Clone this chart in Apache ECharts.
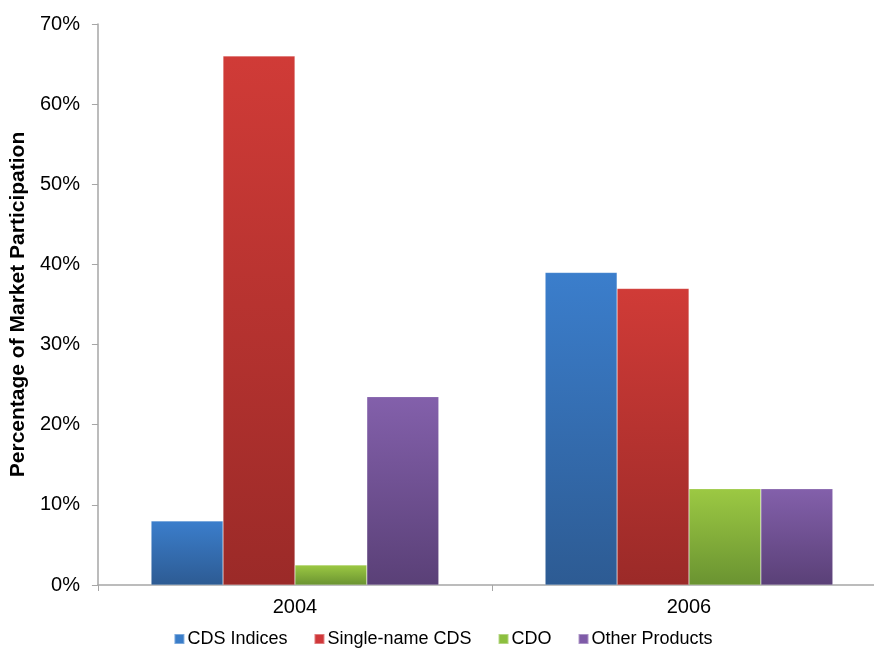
<!DOCTYPE html>
<html>
<head>
<meta charset="utf-8">
<script src="https://cdn.jsdelivr.net/npm/echarts@6/dist/echarts.min.js"></script>
<style>
html,body{margin:0;padding:0;background:#fff;overflow:hidden;}
#chart{width:886px;height:653px;}
</style>
</head>
<body>
<div id="chart"></div>
<script>
// Market participation by product type
const years = ['2004', '2006'];
const cdsIndices = [8, 39];
const singleNameCds = [66, 37];
const cdo = [2.5, 12];
const otherProducts = [23.5, 12];
const seriesNames = ['CDS Indices', 'Single-name CDS', 'CDO', 'Other Products'];

function grad(top, bottom) {
  return new echarts.graphic.LinearGradient(0, 0, 0, 1, [
    { offset: 0, color: top },
    { offset: 1, color: bottom }
  ]);
}

const palette = [
  ['#3b7ecc', '#2d5b93', '#3a7dc9'],
  ['#d03b37', '#9b2a28', '#d0383a'],
  ['#9cc943', '#6a9331', '#8cbf3f'],
  ['#8360ab', '#5a4077', '#7f5ba8']
];

const values = [cdsIndices, singleNameCds, cdo, otherProducts];

const chart = echarts.init(document.getElementById('chart'));
chart.setOption({
  animation: false,
  textStyle: { fontFamily: 'Liberation Sans, Arial, sans-serif' },
  grid: { left: 96, right: 0, top: 24, bottom: 68, containLabel: false },
  legend: {
    bottom: 0,
    left: 'center',
    itemWidth: 10,
    itemHeight: 10,
    itemGap: 26,
    icon: 'rect',
    textStyle: { fontSize: 18, color: '#000', padding: [0, 0, 0, -2] },
    data: seriesNames.map((n, i) => ({ name: n, itemStyle: { color: palette[i][2] } }))
  },
  xAxis: {
    type: 'category',
    data: years,
    axisLine: { lineStyle: { color: '#a6a6a6', width: 1.5 } },
    axisTick: { show: true, length: 6, lineStyle: { color: '#a6a6a6' } },
    axisLabel: { fontSize: 20, color: '#000', margin: 12 }
  },
  yAxis: {
    type: 'value',
    min: 0,
    max: 70,
    interval: 10,
    name: 'Percentage of Market Participation',
    nameLocation: 'middle',
    nameGap: 66,
    nameRotate: 90,
    nameTextStyle: { fontSize: 21, fontWeight: 'bold', color: '#000' },
    axisLine: { show: true, lineStyle: { color: '#a6a6a6', width: 1.5 } },
    axisTick: { show: true, length: 6, lineStyle: { color: '#a6a6a6' } },
    splitLine: { show: false },
    axisLabel: { fontSize: 20, color: '#000', margin: 18, formatter: '{value}%' }
  },
  series: seriesNames.map((n, i) => ({
    name: n,
    type: 'bar',
    data: values[i],
    barGap: '0%',
    barCategoryGap: '27%',
    itemStyle: {
      color: grad(palette[i][0], palette[i][1]),
      borderColor: 'rgba(255,255,255,0.35)',
      borderWidth: 0.5
    }
  }))
});
</script>
</body>
</html>
